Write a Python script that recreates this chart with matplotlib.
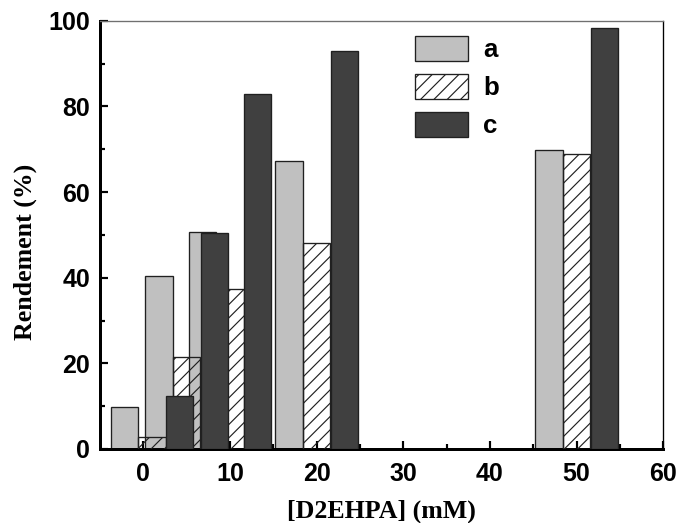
import matplotlib
matplotlib.use('Agg')
import matplotlib.pyplot as plt
import numpy as np

# D2EHPA concentration (mM) and yields (%) for series a, b, c
conc = np.array([1, 5, 10, 20, 50])
yield_a = [9.7, 40.5, 50.6, 67.2, 69.7]
yield_b = [2.7, 21.4, 37.4, 48.2, 68.9]
yield_c = [12.4, 50.4, 82.8, 92.9, 98.2]
labels = ['a', 'b', 'c']

DPI = 120
plt.rcParams['hatch.linewidth'] = 0.7
plt.rcParams['hatch.color'] = '#101010'

fig = plt.figure(figsize=(681 / DPI, 523 / DPI), dpi=DPI)
ax = fig.add_axes([0.1468, 0.1415, 0.8272, 0.8189])

w = 3.15
off = 3.2
ax.bar(conc - off, yield_a, width=w, color='#c0c0c0', edgecolor='#202020',
       linewidth=0.8, label=labels[0], zorder=2)
ax.bar(conc, yield_b, width=w, color='none', edgecolor='#202020', hatch='///',
       linewidth=0.8, label=labels[1], zorder=3)
ax.bar(conc + off, yield_c, width=w, color='#404040', edgecolor='#202020',
       linewidth=0.8, label=labels[2], zorder=4)

ax.set_xlim(-5, 60)
ax.set_ylim(0, 100)
ax.set_xticks(np.arange(0, 61, 10))
ax.set_xticks(np.arange(5, 60, 10), minor=True)
ax.set_yticks(np.arange(0, 101, 20))
ax.set_yticks(np.arange(10, 100, 20), minor=True)

ax.tick_params(which='major', direction='in', length=5, width=1.3,
               labelsize=15)
ax.tick_params(which='minor', direction='in', length=3, width=1.3)
ax.tick_params(axis='x', which='major', pad=8)
ax.tick_params(axis='y', which='major', pad=6)
for lab in ax.get_xticklabels() + ax.get_yticklabels():
    lab.set_fontfamily('Liberation Sans')
    lab.set_fontweight('bold')

ax.spines['left'].set_linewidth(1.8)
ax.spines['bottom'].set_linewidth(1.8)
ax.spines['top'].set_linewidth(0.8)
ax.spines['top'].set_color('#707070')
ax.spines['right'].set_linewidth(0.8)

ax.set_xlabel('[D2EHPA] (mM)', fontfamily='Liberation Serif', fontweight='bold',
              fontsize=15.5, labelpad=8)
ax.set_ylabel('Rendement (%)', fontfamily='Liberation Serif', fontweight='bold',
              fontsize=15.5, labelpad=7, y=0.46)

ax.legend(loc='upper left', bbox_to_anchor=(0.559, 0.964), frameon=False,
          prop={'family': 'Liberation Sans', 'weight': 'bold', 'size': 15.5},
          handlelength=2.05, handleheight=1.1, labelspacing=0.45,
          handletextpad=0.6, borderpad=0, borderaxespad=0)

fig.savefig('out.png', dpi=DPI)
